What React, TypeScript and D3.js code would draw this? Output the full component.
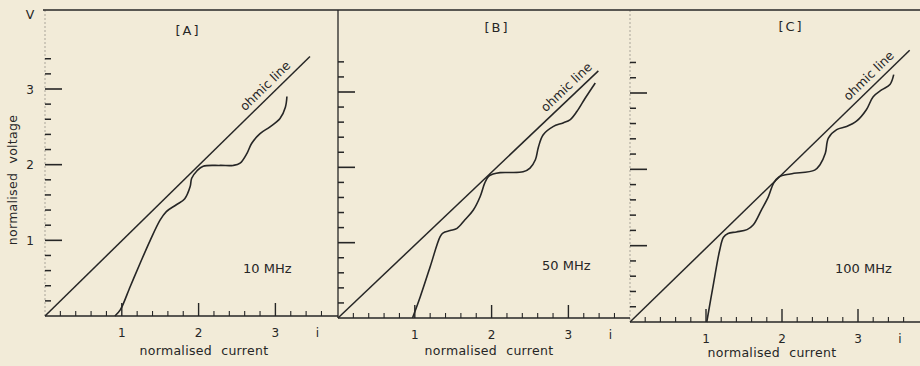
import React from "react";
import * as d3 from "d3";

// Normalised current / voltage characteristics at three drive frequencies
const frequencyLabels = ["10 MHz", "50 MHz", "100 MHz"];
const panelLabels = ["[A]", "[B]", "[C]"];
const currentTickLabels = [1, 2, 3];
const voltageTickLabels = [1, 2, 3];

// [current, voltage]
const curve10MHz: [number, number][] = [
  [0.91, 0], [0.98, 0.08], [1.11, 0.39], [1.24, 0.7], [1.37, 1.0], [1.5, 1.27],
  [1.58, 1.38], [1.71, 1.47], [1.82, 1.55], [1.89, 1.71], [1.91, 1.82],
  [1.98, 1.92], [2.06, 1.98], [2.28, 1.99], [2.45, 1.99], [2.54, 2.02],
  [2.63, 2.15], [2.69, 2.28], [2.8, 2.41], [2.93, 2.5], [3.06, 2.61],
  [3.13, 2.76], [3.15, 2.9],
];
const curve50MHz: [number, number][] = [
  [0.97, 0], [1.07, 0.28], [1.2, 0.68], [1.33, 1.08], [1.37, 1.13], [1.46, 1.16],
  [1.55, 1.19], [1.65, 1.3], [1.76, 1.43], [1.85, 1.61], [1.91, 1.79],
  [1.96, 1.88], [2.02, 1.91], [2.11, 1.93], [2.41, 1.94], [2.5, 1.99],
  [2.57, 2.1], [2.61, 2.27], [2.67, 2.43], [2.8, 2.54], [2.93, 2.59],
  [3.02, 2.63], [3.11, 2.74], [3.22, 2.92], [3.35, 3.12],
];
const curve100MHz: [number, number][] = [
  [1.01, 0], [1.1, 0.51], [1.18, 0.94], [1.23, 1.11], [1.29, 1.16], [1.4, 1.18],
  [1.54, 1.21], [1.62, 1.27], [1.73, 1.47], [1.82, 1.64], [1.89, 1.82],
  [1.96, 1.9], [2.11, 1.94], [2.43, 1.99], [2.5, 2.06], [2.57, 2.21],
  [2.61, 2.41], [2.72, 2.52], [2.85, 2.56], [2.98, 2.63], [3.11, 2.78],
  [3.2, 2.95], [3.31, 3.04], [3.42, 3.11], [3.47, 3.24],
];
// far end of each ohmic line, starting from the origin
const ohmicLineEnds: [number, number][] = [
  [3.45, 3.43],
  [3.39, 3.28],
  [3.68, 3.56],
];
const curves = [curve10MHz, curve50MHz, curve100MHz];

const W = 920;
const H = 366;
const INK = "#262626";
const FONT = "'DejaVu Sans', sans-serif";

// panel frames on the page
const frames = [
  { ox: 45, unitX: 76.8, baseY: 316, v3Y: 89, right: 338, leftSolid: false, nameDx: 143, nameY: 35, freqDx: 198, freqY: 273, titleDx: 159, titleY: 355, labelStart: 2.66 },
  { ox: 338, unitX: 76.8, baseY: 318, v3Y: 92, right: 630, leftSolid: true, nameDx: 159, nameY: 32, freqDx: 204, freqY: 270, titleDx: 151, titleY: 355, labelStart: 2.76 },
  { ox: 630, unitX: 76.0, baseY: 322, v3Y: 93, right: 920, leftSolid: false, nameDx: 161, nameY: 31, freqDx: 205, freqY: 273, titleDx: 142, titleY: 357, labelStart: 2.93 },
];

function Panel({ idx }: { idx: number }) {
  const f = frames[idx];
  const x = d3.scaleLinear().domain([0, 1]).range([f.ox, f.ox + f.unitX]);
  const y = d3.scaleLinear().domain([0, 3]).range([f.baseY, f.v3Y]);
  const xMax = x.invert(f.right - 4);
  const xMinor = d3.range(0.2, xMax, 0.2).filter((v) => Math.abs(v - Math.round(v)) > 0.05);
  const yMinor = d3.range(0.2, 3.45, 0.2).filter((v) => Math.abs(v - Math.round(v)) > 0.05);
  const line = d3
    .line<[number, number]>()
    .x((d) => x(d[0]))
    .y((d) => y(d[1]))
    .curve(d3.curveCatmullRom.alpha(0.5));
  const end = ohmicLineEnds[idx];
  const ohmic: [number, number][] = [[0, 0], end];
  const angle = (Math.atan2(y(end[1]) - y(0), x(end[0]) - x(0)) * 180) / Math.PI;
  const slope = end[1] / end[0];
  const lx = x(f.labelStart);
  const ly = y(f.labelStart * slope);
  const topY = 10;

  return (
    <g>
      {/* vertical axis */}
      <line
        x1={f.ox}
        x2={f.ox}
        y1={topY}
        y2={f.baseY}
        stroke={INK}
        strokeWidth={f.leftSolid ? 1.3 : 0.8}
        strokeOpacity={f.leftSolid ? 1 : 0.45}
        strokeDasharray={f.leftSolid ? undefined : "2 2"}
      />
      {/* horizontal axis */}
      <line x1={f.ox} x2={f.right} y1={f.baseY} y2={f.baseY} stroke={INK} strokeWidth={1.4} />
      {xMinor.map((v) => (
        <line key={"xm" + v} x1={x(v)} x2={x(v)} y1={f.baseY} y2={f.baseY - 5} stroke={INK} strokeWidth={1.1} />
      ))}
      {currentTickLabels.map((v) => (
        <g key={"xM" + v}>
          <line x1={x(v)} x2={x(v)} y1={f.baseY} y2={f.baseY - 13} stroke={INK} strokeWidth={1.4} />
          <text x={x(v)} y={f.baseY + 21} textAnchor="middle" fontSize={12} fontFamily={FONT} fill={INK}>
            {v}
          </text>
        </g>
      ))}
      <text x={x(3) + 42} y={f.baseY + 21} textAnchor="middle" fontSize={12} fontFamily={FONT} fill={INK}>
        i
      </text>
      <text
        x={f.ox + f.titleDx}
        y={f.titleY}
        textAnchor="middle"
        fontSize={12.5}
        fontFamily={FONT}
        fill={INK}
        style={{ wordSpacing: "5px", letterSpacing: "0.3px" }}
      >
        normalised current
      </text>
      {yMinor.map((v) => (
        <line key={"ym" + v} x1={f.ox} x2={f.ox + 6} y1={y(v)} y2={y(v)} stroke={INK} strokeWidth={1.5} />
      ))}
      {voltageTickLabels.map((v) => (
        <line key={"yM" + v} x1={f.ox} x2={f.ox + 17} y1={y(v)} y2={y(v)} stroke={INK} strokeWidth={1.6} />
      ))}
      {idx === 0 &&
        voltageTickLabels.map((v) => (
          <text key={"yl" + v} x={30} y={y(v) + 4.5} textAnchor="middle" fontSize={12} fontFamily={FONT} fill={INK}>
            {v}
          </text>
        ))}
      {/* ohmic line and measured characteristic */}
      <path d={line(ohmic) ?? ""} fill="none" stroke={INK} strokeWidth={1.5} />
      <path d={line(curves[idx]) ?? ""} fill="none" stroke={INK} strokeWidth={1.6} strokeLinejoin="round" />
      <g transform={`translate(${lx},${ly}) rotate(${angle})`}>
        <text x={0} y={-6} fontSize={12.5} fontFamily={FONT} fill={INK}>
          ohmic line
        </text>
      </g>
      <text x={f.ox + f.nameDx} y={f.nameY} textAnchor="middle" fontSize={13} fontFamily={FONT} fill={INK} style={{ letterSpacing: "2px" }}>
        {panelLabels[idx]}
      </text>
      <text x={f.ox + f.freqDx} y={f.freqY} fontSize={13} fontFamily={FONT} fill={INK}>
        {frequencyLabels[idx]}
      </text>
    </g>
  );
}

export default function App() {
  return (
    <svg
      width={W}
      height={H}
      viewBox={`0 0 ${W} ${H}`}
      style={{ position: "absolute", left: 0, top: 0, display: "block" }}
    >
      <rect x={0} y={0} width={W} height={H} fill="#f2ebd8" />
      <line x1={43} x2={W} y1={10} y2={10} stroke={INK} strokeWidth={1.5} />
      <text x={30} y={19} textAnchor="middle" fontSize={12.5} fontFamily={FONT} fill={INK}>
        V
      </text>
      <text
        transform="translate(17,180) rotate(-90)"
        textAnchor="middle"
        fontSize={12.5}
        fontFamily={FONT}
        fill={INK}
        style={{ wordSpacing: "5px", letterSpacing: "0.3px" }}
      >
        normalised voltage
      </text>
      {frames.map((_, i) => (
        <Panel key={i} idx={i} />
      ))}
    </svg>
  );
}
